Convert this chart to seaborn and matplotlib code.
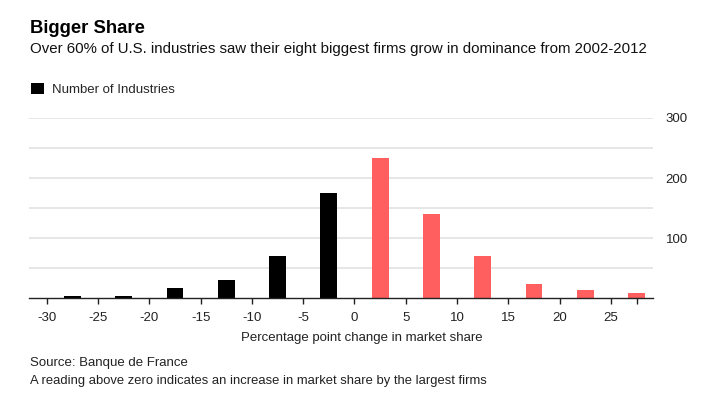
import numpy as np
import pandas as pd
import matplotlib
matplotlib.use("Agg")
import matplotlib.pyplot as plt
from matplotlib.patches import Patch
import seaborn as sns

# ---- data ----
bin_centers = [-27.5, -22.5, -17.5, -12.5, -7.5, -2.5, 2.5, 7.5, 12.5, 17.5, 22.5, 27.5]
industry_counts = [4, 3, 17, 30, 70, 176, 234, 140, 70, 24, 14, 8]
x_ticks = [-30, -25, -20, -15, -10, -5, 0, 5, 10, 15, 20, 25]
y_ticks = [100, 200, 300]

title = "Bigger Share"
subtitle = "Over 60% of U.S. industries saw their eight biggest firms grow in dominance from 2002-2012"
legend_label = "Number of Industries"
x_label = "Percentage point change in market share"
source = "Source: Banque de France"
note = "A reading above zero indicates an increase in market share by the largest firms"

df = pd.DataFrame({"bin": bin_centers, "count": industry_counts})
df["side"] = np.where(df["bin"] < 0, "neg", "pos")

sns.set_theme(style="white")
plt.rcParams["font.family"] = ["Liberation Sans", "DejaVu Sans"]

W, H = 714, 396
fig = plt.figure(figsize=(W / 100, H / 100), dpi=100)
ax = fig.add_axes([29.3 / W, 1 - 298.3 / H, (653 - 29.3) / W, (298.3 - 118) / H])

sns.barplot(data=df, x="bin", y="count", hue="side", native_scale=True,
            palette={"neg": "#000000", "pos": "#ff5f5f"}, width=0.33,
            dodge=False, legend=False, ax=ax, saturation=1, linewidth=0)

ax.set_xlim(-31.7, 29.1)
ax.set_ylim(0, 300)

# grid
for yv in np.arange(50, 301, 50):
    ax.axhline(yv, color="#e2e2e2", lw=1.2, zorder=0)
for s in ["top", "left", "right"]:
    ax.spines[s].set_visible(False)
ax.spines["bottom"].set_color("#222222")
ax.spines["bottom"].set_linewidth(1.0)

ax.set_xticks(x_ticks + [27.5])
ax.set_xticklabels([str(t) for t in x_ticks] + [""])
ax.tick_params(axis="x", direction="out", length=4, width=1, color="#222222",
               labelsize=9.5, labelcolor="#222222", pad=6, bottom=True)
ax.yaxis.tick_right()
ax.set_yticks(y_ticks)
ax.set_yticklabels([str(t) for t in y_ticks])
ax.tick_params(axis="y", length=0, labelsize=9.5, labelcolor="#222222", pad=9)
for lab in ax.get_yticklabels():
    lab.set_horizontalalignment("left")
ax.set_ylabel("")
ax.set_xlabel("")
ax.grid(False)

fig.text(362 / W, 1 - 337.5 / H, x_label, ha="center", va="center", fontsize=9.5, color="#222222")

fig.text(30 / W, 1 - 33 / H, title, ha="left", va="baseline", fontsize=13.3,
         fontweight="bold", color="#000000")
fig.text(30 / W, 1 - 53.3 / H, subtitle, ha="left", va="baseline", fontsize=10.8, color="#111111")

fig.legend(handles=[Patch(facecolor="#000000", edgecolor="none", label=legend_label)],
           loc="center left", bbox_to_anchor=(31 / W, 1 - 89.5 / H), frameon=False,
           handlelength=0.95, handleheight=0.95, handletextpad=0.65, fontsize=9.5,
           borderaxespad=0, borderpad=0)

fig.text(29.5 / W, 1 - 366 / H, source, ha="left", va="baseline", fontsize=9.5, color="#222222")
fig.text(29.5 / W, 1 - 384 / H, note, ha="left", va="baseline", fontsize=9.4, color="#222222")

fig.savefig("out.png", dpi=100, facecolor="white")
